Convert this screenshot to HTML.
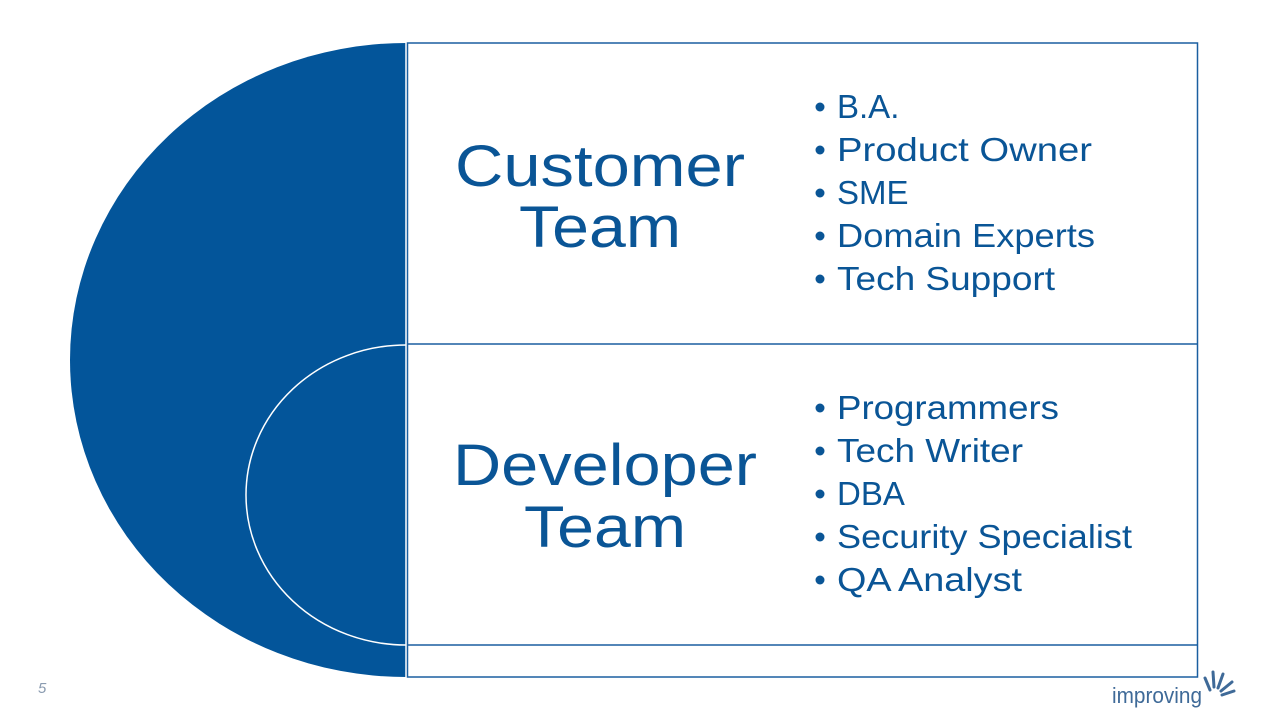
<!DOCTYPE html>
<html><head><meta charset="utf-8"><style>
html,body{margin:0;padding:0;background:#fff;}
svg{display:block;}
text{font-family:"Liberation Sans",sans-serif;fill:#0a5596;}
</style></head><body>
<svg width="1279" height="719" viewBox="0 0 1279 719">
<path d="M406 43 A336 317 0 0 0 406 677 Z" fill="#03559a"/>
<path d="M406 345 A160 150 0 0 0 406 645" fill="none" stroke="#fff" stroke-width="1.5"/>
<line x1="406" y1="43" x2="406" y2="677" stroke="#fff" stroke-width="1.5"/>
<rect x="407.5" y="43" width="790" height="634" fill="none" stroke="#1a5fa0" stroke-width="1.5"/>
<line x1="407" y1="344" x2="1198" y2="344" stroke="#1a5fa0" stroke-width="1.5"/>
<line x1="407" y1="645" x2="1198" y2="645" stroke="#1a5fa0" stroke-width="1.5"/>

<text x="600" y="186" font-size="58" text-anchor="middle" textLength="290" lengthAdjust="spacingAndGlyphs">Customer</text>
<text x="600" y="247" font-size="58" text-anchor="middle" textLength="162" lengthAdjust="spacingAndGlyphs">Team</text>
<g fill="#0a5596">
<circle cx="820" cy="107" r="4.5"/><circle cx="820" cy="150" r="4.5"/><circle cx="820" cy="193" r="4.5"/><circle cx="820" cy="236" r="4.5"/><circle cx="820" cy="279" r="4.5"/>
<circle cx="820" cy="408" r="4.5"/><circle cx="820" cy="451" r="4.5"/><circle cx="820" cy="494" r="4.5"/><circle cx="820" cy="537" r="4.5"/><circle cx="820" cy="580" r="4.5"/>
</g>
<g font-size="33">
<text x="837" y="118">B.A.</text>
<text x="837" y="161" textLength="255" lengthAdjust="spacingAndGlyphs">Product Owner</text>
<text x="837" y="204">SME</text>
<text x="837" y="247" textLength="258" lengthAdjust="spacingAndGlyphs">Domain Experts</text>
<text x="837" y="290" textLength="218" lengthAdjust="spacingAndGlyphs">Tech Support</text>
</g>

<text x="605" y="485" font-size="58" text-anchor="middle" textLength="304" lengthAdjust="spacingAndGlyphs">Developer</text>
<text x="605" y="547" font-size="58" text-anchor="middle" textLength="162" lengthAdjust="spacingAndGlyphs">Team</text>
<g font-size="33">
<text x="837" y="419" textLength="222" lengthAdjust="spacingAndGlyphs">Programmers</text>
<text x="837" y="462" textLength="186" lengthAdjust="spacingAndGlyphs">Tech Writer</text>
<text x="837" y="505">DBA</text>
<text x="837" y="548" textLength="295" lengthAdjust="spacingAndGlyphs">Security Specialist</text>
<text x="837" y="591" textLength="185" lengthAdjust="spacingAndGlyphs">QA Analyst</text>
</g>

<text x="38" y="693" font-size="15" font-style="italic" style="fill:#8a9bb0">5</text>
<text x="1112" y="703" font-size="22" style="fill:#3f6a98" textLength="90" lengthAdjust="spacingAndGlyphs">improving</text>
<g stroke="#3f6a98" stroke-width="3" stroke-linecap="round">
<line x1="1210" y1="690" x2="1205" y2="678"/>
<line x1="1214" y1="687" x2="1213" y2="672"/>
<line x1="1218" y1="688" x2="1223" y2="674"/>
<line x1="1221" y1="691" x2="1232" y2="682"/>
<line x1="1222" y1="695" x2="1234" y2="691"/>
</g>
</svg>
</body></html>
